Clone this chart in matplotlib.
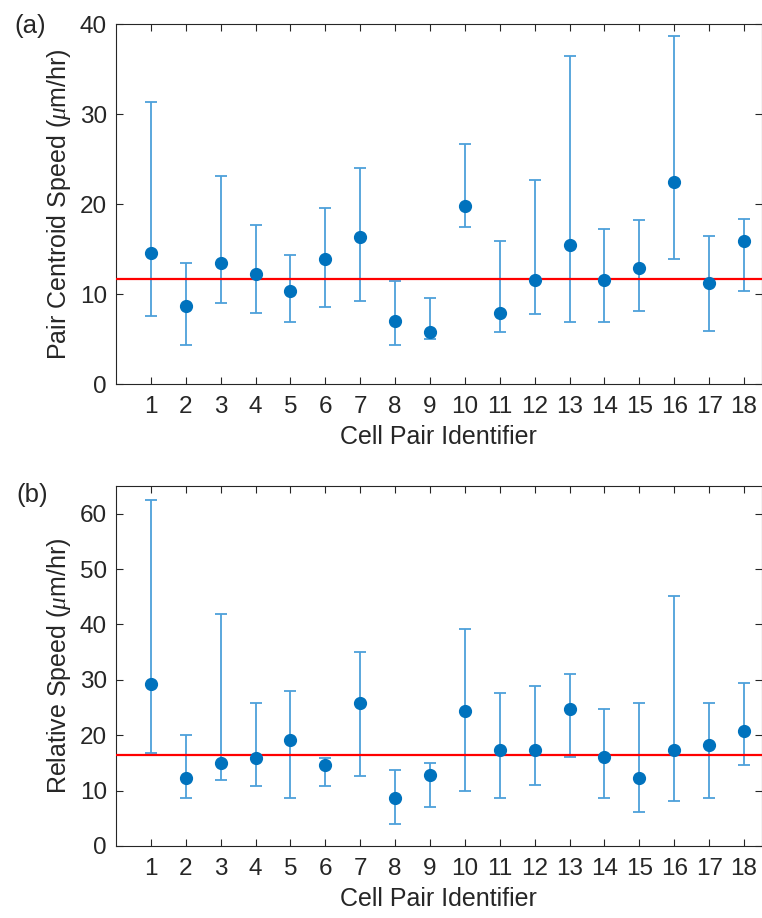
import numpy as np
import matplotlib
matplotlib.use("Agg")
import matplotlib.pyplot as plt

plt.rcParams['font.family'] = ['Liberation Sans', 'DejaVu Sans']
plt.rcParams['mathtext.fontset'] = 'custom'
plt.rcParams['mathtext.it'] = 'Liberation Serif:italic'

# cell pair identifiers
pairs = np.arange(1, 19)

# (a) pair centroid speed: median with lower / upper bounds
centroid = [14.6, 8.7, 13.4, 12.2, 10.3, 13.9, 16.3, 7.0, 5.8, 19.8,
            7.9, 11.6, 15.5, 11.6, 12.9, 22.4, 11.2, 15.9]
centroid_lo = [7.6, 4.3, 9.0, 7.9, 6.9, 8.6, 9.2, 4.3, 5.0, 17.5,
               5.8, 7.8, 6.9, 6.9, 8.1, 13.9, 5.9, 10.3]
centroid_hi = [31.3, 13.5, 23.1, 17.7, 14.3, 19.6, 24.0, 11.4, 9.6, 26.7,
               15.9, 22.7, 36.4, 17.2, 18.2, 38.7, 16.5, 18.3]
centroid_mean = 11.7

# (b) relative speed
relative = [29.3, 12.2, 14.9, 15.9, 19.2, 14.7, 25.8, 8.7, 12.8, 24.4,
            17.3, 17.3, 24.7, 16.1, 12.2, 17.3, 18.2, 20.7]
relative_lo = [16.8, 8.6, 11.9, 10.9, 8.6, 10.9, 12.6, 3.9, 7.0, 9.9,
               8.6, 11.1, 16.1, 8.6, 6.1, 8.1, 8.6, 14.7]
relative_hi = [62.4, 20.1, 41.8, 25.8, 27.9, 15.8, 35.1, 13.8, 14.9, 39.2,
               27.7, 28.9, 31.0, 24.7, 25.8, 45.1, 25.8, 29.4]
relative_mean = 16.35

dark = '#262626'
W, H = 762, 918
fig = plt.figure(figsize=(W / 100, H / 100), dpi=100)

panels = [
    (centroid, centroid_lo, centroid_hi, centroid_mean, 40, np.arange(0, 41, 10),
     'Pair Centroid Speed ($\\mu$m/hr)', '(a)', 24, (30, 26)),
    (relative, relative_lo, relative_hi, relative_mean, 65, np.arange(0, 61, 10),
     'Relative Speed ($\\mu$m/hr)', '(b)', 486, (32, 495)),
]

for vals, lo, hi, mean, ytop, yticks, ylab, tag, top_px, tag_xy in panels:
    ax = fig.add_axes([116 / W, 1 - (top_px + 360) / H, 645.5 / W, 360 / H])
    vals = np.array(vals)
    yerr = [vals - np.array(lo), np.array(hi) - vals]
    ax.errorbar(pairs, vals, yerr=yerr, fmt='none', ecolor='#4DA0DA',
                elinewidth=1.3, capsize=4, capthick=1.3, zorder=2)
    ax.plot(pairs, vals, 'o', color='#0072BD', markersize=8.5, zorder=4)
    ax.axhline(mean, color='#FF0000', lw=1.6, zorder=3)
    ax.set_xlim(0, 18.5)
    ax.set_ylim(0, ytop)
    ax.set_xticks(pairs)
    ax.set_yticks(yticks)
    ax.tick_params(direction='in', top=True, right=True, length=5,
                   width=0.8, colors=dark, labelsize=17.5)
    ax.tick_params(axis='x', pad=8.5)
    ax.tick_params(axis='y', pad=6.5)
    for s in ax.spines.values():
        s.set_color(dark)
        s.set_linewidth(0.8)
    ax.set_ylabel(ylab, fontsize=18, color=dark)
    ax.yaxis.set_label_coords(-0.067, 0.5)
    ax.set_xlabel('Cell Pair Identifier', fontsize=18, color=dark)
    ax.xaxis.set_label_coords(0.5, -0.114)
    ax.xaxis.label.set_va('top')
    fig.text(tag_xy[0] / W, 1 - tag_xy[1] / H, tag, fontsize=18.5,
             color=dark, ha='center', va='center')

fig.savefig('out.png', dpi=100)
